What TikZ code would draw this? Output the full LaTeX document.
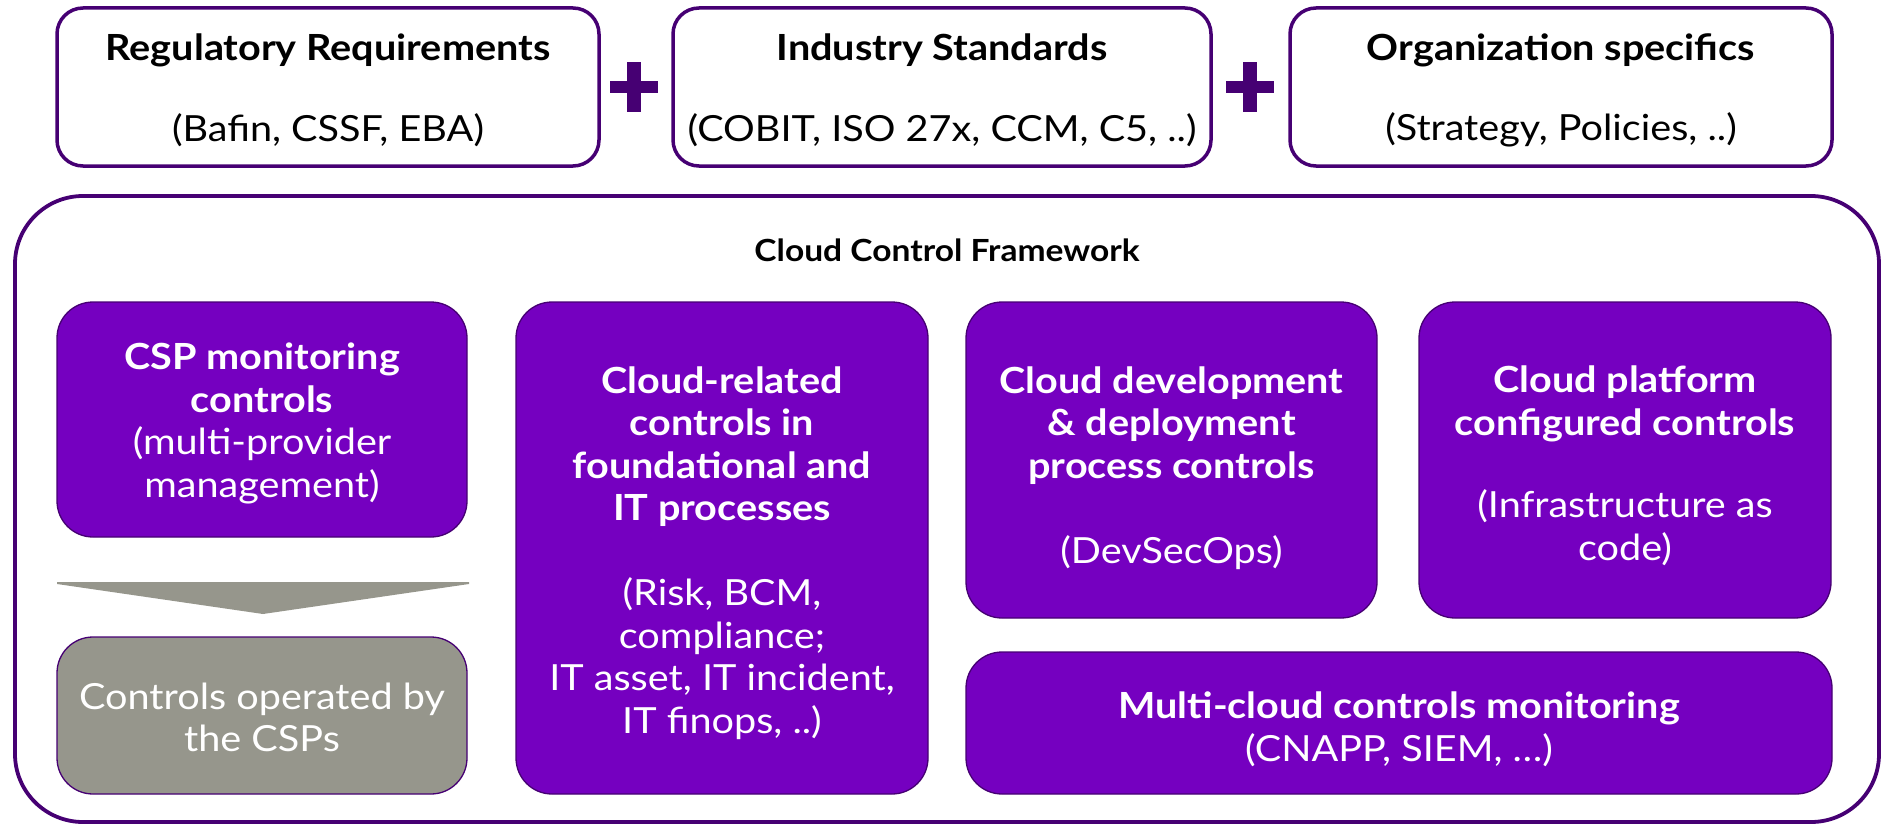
\documentclass[tikz,border=0pt]{standalone}
\usepackage{fontspec}
\setmainfont{Lato}[FakeStretch=1.1]
\definecolor{apurple}{HTML}{7500C0}
\definecolor{dpurple}{HTML}{460073}
\definecolor{agray}{HTML}{96968C}
\begin{document}
\begin{tikzpicture}[x=1pt,y=-1pt,
  topbox/.style={draw=dpurple, line width=3.5pt, rounded corners=26pt, fill=white, inner sep=0pt},
  pbox/.style={draw=dpurple, line width=1.3pt, fill=apurple, rounded corners=36pt, inner sep=0pt},
  gbox/.style={pbox, fill=agray},
  ptext/.style={text=white, align=center, inner sep=0pt, font=\fontsize{36}{42.5}\selectfont},
  toptitle/.style={font=\fontsize{36}{40}\selectfont\bfseries, text=black},
  topsub/.style={font=\fontsize{36}{40}\selectfont, text=black},
  plusbar/.style={fill=dpurple, draw=none},
]
\useasboundingbox (0,0) rectangle (1889,824);
% top boxes
\node[topbox, minimum width=542pt, minimum height=158pt] (reg) at (328,87) {};
\node[topbox, minimum width=538pt, minimum height=158pt] (ind) at (942,87) {};
\node[topbox, minimum width=542pt, minimum height=158pt] (org) at (1561,87) {};
\node[toptitle] (regt) at (328,50) {Regulatory Requirements};
\node[topsub]   (regs) at (328,130) {(Bafin, CSSF, EBA)};
\node[toptitle] (indt) at (942,50) {Industry Standards};
\node[topsub]   (inds) at (942,130) {(COBIT, ISO 27x, CCM, C5, ..)};
\node[toptitle] (orgt) at (1561,50) {Organization specifics};
\node[topsub]   (orgs) at (1561,130) {(Strategy, Policies, ..)};
% plus signs
\fill[plusbar] (610,81) rectangle (658,93);
\fill[plusbar] (627,62) rectangle (641,112);
\fill[plusbar] (1226,81) rectangle (1274,93);
\fill[plusbar] (1243,62) rectangle (1257,112);
% frame
\draw[dpurple, line width=3.8pt, rounded corners=68pt] (15,196) rectangle (1879,822);
\node[font=\fontsize{30.5}{34}\selectfont\bfseries] (cct) at (947,250) {Cloud Control Framework};
% inner boxes
\node[pbox, minimum width=410pt, minimum height=235pt] (csp) at (262,419.5) {};
\node[ptext] (csp-t) at ([yshift=-4pt]csp.center)
  {\textbf{CSP monitoring}\\\textbf{controls}\\(multi-provider\\management)};
\node[gbox, minimum width=410pt, minimum height=157pt] (ops) at (262,715.5) {};
\node[ptext] (ops-t) at ([yshift=-2pt]ops.center) {Controls operated by\\the CSPs};
\fill[agray] (57,582) -- (469,582) -- (469,584) -- (263,614) -- (57,584) -- cycle;
\node[pbox, minimum width=412pt, minimum height=492pt] (rel) at (722,548) {};
\node[ptext] (rel-t) at ([yshift=-5pt]rel.center)
  {\textbf{Cloud-related}\\\textbf{controls in}\\\textbf{foundational and}\\\textbf{IT processes}\\[42.5pt](Risk, BCM,\\compliance;\\IT asset, IT incident,\\IT finops, ..)};
\node[pbox, minimum width=411pt, minimum height=316pt] (dev) at (1171.5,460) {};
\node[ptext] (dev-t) at ([yshift=-8pt]dev.center)
  {\textbf{Cloud development}\\\textbf{\& deployment}\\\textbf{process controls}\\[42.5pt](DevSecOps)};
\node[pbox, minimum width=412pt, minimum height=316pt] (plat) at (1625,460) {};
\node[ptext] (plat-t) at ([yshift=-6pt]plat.center)
  {\textbf{Cloud platform}\\\textbf{configured controls}\\[40pt](Infrastructure as\\code)};
\node[pbox, minimum width=866pt, minimum height=142pt] (multi) at (1399,723) {};
\node[ptext] (multi-t) at ([yshift=-6pt]multi.center)
  {\textbf{Multi-cloud controls monitoring}\\(CNAPP, SIEM, \dots)};
\end{tikzpicture}
\end{document}
